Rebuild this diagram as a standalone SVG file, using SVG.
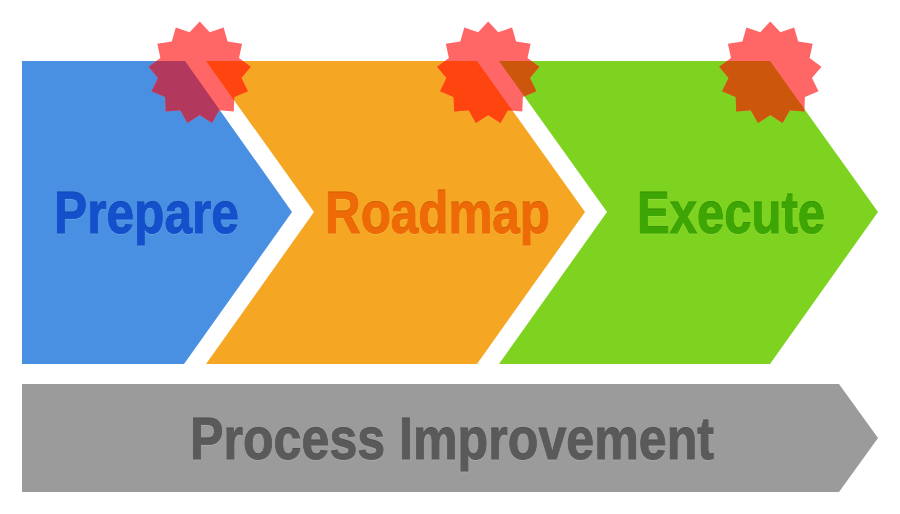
<svg xmlns="http://www.w3.org/2000/svg" xmlns:xlink="http://www.w3.org/1999/xlink" width="900" height="514" viewBox="0 0 900 514">
<style>
.lbl{font-family:"Liberation Sans",Arial,sans-serif;font-weight:700;font-size:59px;stroke-width:.9px;paint-order:stroke;filter:url(#inset)}
</style>
<defs>
<filter id="inset" x="-5%" y="-10%" width="110%" height="125%" color-interpolation-filters="sRGB">
<feOffset in="SourceAlpha" dy="1" result="o"/>
<feComposite in="SourceAlpha" in2="o" operator="out" result="edge"/>
<feFlood flood-color="#000" flood-opacity=".12"/>
<feComposite in2="edge" operator="in" result="dark"/>
<feOffset in="SourceAlpha" dy="1" result="o2"/>
<feComposite in="o2" in2="SourceAlpha" operator="out" result="low"/>
<feFlood flood-color="#fff" flood-opacity=".12"/>
<feComposite in2="low" operator="in" result="light"/>
<feMerge><feMergeNode in="light"/><feMergeNode in="SourceGraphic"/><feMergeNode in="dark"/></feMerge>
</filter>
<polygon id="burst" points="0,-51.5 10.05,-40.8 23.9,-45.6 27.9,-31.4 42.4,-29.3 39.3,-14.9 51.1,-6.2 41.7,5.1 48.2,18.3 34.6,23.9 34.1,38.5 19.5,37.2 12.3,50 0,42 -12.3,50 -19.5,37.2 -34.1,38.5 -34.6,23.9 -48.2,18.3 -41.7,5.1 -51.1,-6.2 -39.3,-14.9 -42.4,-29.3 -27.9,-31.4 -23.9,-45.6 -10.05,-40.8"/>
<clipPath id="c1"><polygon points="22,61 185,61 292,212 184,364 22,364"/></clipPath>
<clipPath id="c2"><polygon points="206,61 477,61 585,212 477,364 206,364 314,212"/></clipPath>
<clipPath id="c3"><polygon points="499,61 770,61 878,212 770,364 499,364 607,212"/></clipPath>
</defs>
<g id="node-prepare">
<polygon points="22,61 185,61 292,212 184,364 22,364" fill="#4a90e2"/>
<text class="lbl" x="54" y="233" textLength="185" lengthAdjust="spacingAndGlyphs" fill="#1550cc" stroke="#1550cc">Prepare</text>
</g>
<g id="node-roadmap">
<polygon points="206,61 477,61 585,212 477,364 206,364 314,212" fill="#f5a623"/>
<text class="lbl" x="325" y="233" textLength="225" lengthAdjust="spacingAndGlyphs" fill="#ee6a06" stroke="#ee6a06">Roadmap</text>
</g>
<g id="node-execute">
<polygon points="499,61 770,61 878,212 770,364 499,364 607,212" fill="#7ed321"/>
<text class="lbl" x="637" y="233" textLength="188" lengthAdjust="spacingAndGlyphs" fill="#3da504" stroke="#3da504">Execute</text>
</g>
<g id="node-improvement">
<polygon points="22,384 839,384 878,438 839,492 22,492" fill="#9b9b9b"/>
<text class="lbl" x="190" y="459" textLength="524" lengthAdjust="spacingAndGlyphs" fill="#5a5a5a" stroke="#5a5a5a">Process Improvement</text>
</g>
<g id="burst-1">
<use href="#burst" x="199.7" y="73" fill="#ff6666"/>
<g clip-path="url(#c1)"><use href="#burst" x="199.7" y="73" fill="#b2395d"/></g>
<g clip-path="url(#c2)"><use href="#burst" x="199.7" y="73" fill="#ff450f"/></g>
</g>
<g id="burst-2">
<use href="#burst" x="488.2" y="73" fill="#ff6666"/>
<g clip-path="url(#c2)"><use href="#burst" x="488.2" y="73" fill="#ff450f"/></g>
<g clip-path="url(#c3)"><use href="#burst" x="488.2" y="73" fill="#cc560c"/></g>
</g>
<g id="burst-3">
<use href="#burst" x="770.3" y="73" fill="#ff6666"/>
<g clip-path="url(#c3)"><use href="#burst" x="770.3" y="73" fill="#cc560c"/></g>
</g>
</svg>
